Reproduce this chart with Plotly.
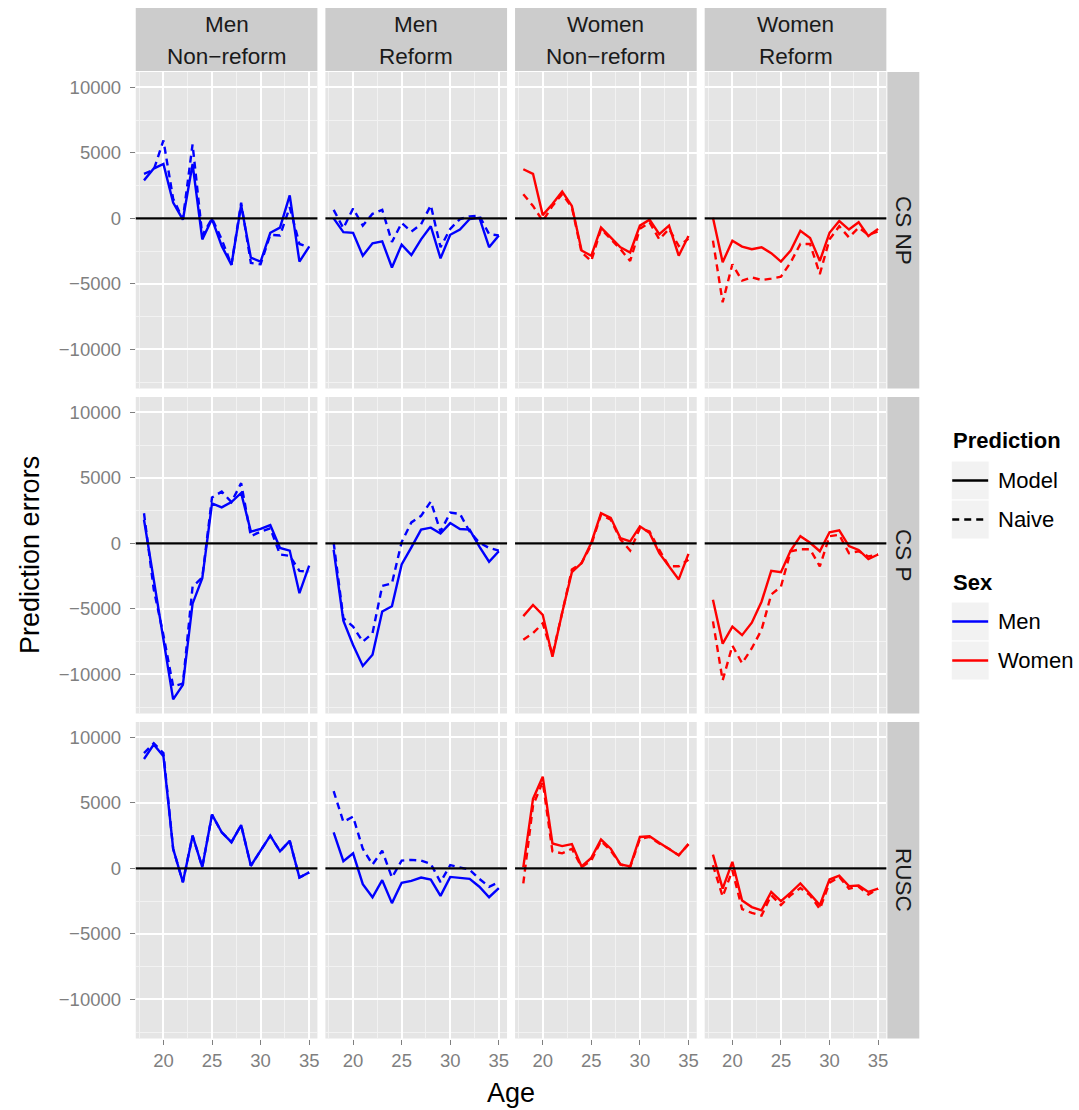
import plotly.graph_objects as go

# Ages on the x axis
ages = list(range(18, 36))

# Column (sex / reform status) and row (measure) facet labels
col_sex = ["Men", "Men", "Women", "Women"]
col_reform = ["Non\u2212reform", "Reform", "Non\u2212reform", "Reform"]
row_labels = ["CS NP", "CS P", "RUSC"]

# y tick positions and labels
y_ticks = [-10000, -5000, 0, 5000, 10000]
y_ticklabels = ["\u221210000", "\u22125000", "0", "5000", "10000"]

# Prediction errors, CS NP
men_nonref_csnp_model = [2900, 3800, 4150, 1200, -100, 4150, -1600, -50, -2100, -3550, 1000, -3000, -3300, -1100, -700, 1750, -3300, -2150]
men_nonref_csnp_naive = [3400, 3700, 5950, 1500, -50, 5650, -1300, 0, -1600, -3550, 1200, -3400, -3500, -1250, -1300, 850, -1950, -2200]
men_ref_csnp_model = [0, -1050, -1100, -2850, -1900, -1750, -3750, -2000, -2800, -1600, -600, -3050, -1250, -850, -50, 50, -2200, -1300]
men_ref_csnp_naive = [650, -750, 750, -550, 350, 650, -1800, -350, -1000, -450, 1000, -2200, -800, -50, 150, 200, -1200, -1300]
women_nonref_csnp_model = [3750, 3400, 250, 1100, 2050, 950, -2450, -2850, -700, -1450, -2200, -2600, -550, -100, -1200, -550, -2850, -1350]
women_nonref_csnp_naive = [1850, 950, -200, 950, 1850, 850, -2600, -3250, -800, -1600, -2350, -3250, -800, -300, -1600, -800, -2100, -1550]
women_ref_csnp_model = [50, -3350, -1700, -2150, -2350, -2200, -2650, -3300, -2450, -950, -1500, -3250, -1100, -200, -850, -300, -1350, -800]
women_ref_csnp_naive = [-1700, -6400, -3500, -4750, -4500, -4700, -4600, -4450, -3350, -1950, -1950, -4250, -1600, -600, -1450, -700, -1250, -1000]

# Prediction errors, CS P
men_nonref_csp_model = [1800, -2700, -7200, -11900, -10800, -4600, -2650, 3050, 2750, 3150, 3850, 900, 1100, 1400, -350, -550, -3800, -1700]
men_nonref_csp_naive = [2300, -3500, -7000, -10900, -10700, -3300, -2600, 3500, 3950, 3150, 4600, 550, 900, 1150, -850, -950, -2100, -2150]
men_ref_csp_model = [-500, -5900, -7750, -9350, -8500, -5200, -4800, -1600, -300, 1050, 1200, 750, 1550, 1100, 1050, -250, -1400, -600]
men_ref_csp_naive = [50, -5700, -6350, -7500, -6850, -3250, -3050, 100, 1600, 2100, 3200, 900, 2350, 2250, 900, 50, -350, -550]
women_nonref_csp_model = [-5550, -4700, -5450, -8650, -5300, -2200, -1500, 50, 2300, 1950, 400, 150, 1300, 800, -750, -1750, -2750, -800]
women_nonref_csp_naive = [-7350, -6850, -6100, -8500, -5300, -2000, -1500, -100, 2200, 1800, 300, -550, 1150, 900, -500, -1750, -1750, -1250]
women_ref_csp_model = [-4300, -7650, -6350, -7000, -6050, -4450, -2100, -2200, -550, 550, 50, -600, 850, 1000, -200, -500, -1200, -850]
women_ref_csp_naive = [-5950, -10450, -7800, -9150, -8000, -6600, -3900, -3300, -600, -450, -450, -1750, 550, 650, -750, -600, -1000, -850]

# Prediction errors, RUSC
men_nonref_rusc_model = [8350, 9450, 8550, 1500, -1050, 2500, 100, 4100, 2750, 2000, 3300, 200, 1350, 2500, 1300, 2100, -700, -300]
men_nonref_rusc_naive = [8800, 9550, 8800, 1500, -1050, 2500, 100, 4100, 2750, 2000, 3300, 200, 1350, 2500, 1300, 2100, -700, -300]
men_ref_rusc_model = [2750, 550, 1150, -1200, -2200, -900, -2650, -1100, -950, -700, -850, -2100, -650, -750, -800, -1400, -2200, -1500]
men_ref_rusc_naive = [5900, 3550, 3950, 1500, 300, 1350, -700, 600, 650, 600, 350, -1050, 250, 100, -100, -800, -1400, -1050]
women_nonref_rusc_model = [100, 5300, 7000, 1900, 1700, 1850, 150, 800, 2200, 1500, 300, 150, 2400, 2450, 1950, 1500, 1000, 1850]
women_nonref_rusc_naive = [-1150, 4800, 6600, 1300, 1150, 1500, 100, 600, 2100, 1350, 300, 100, 2250, 2400, 1900, 1500, 1000, 1850]
women_ref_rusc_model = [1050, -1550, 500, -2450, -2950, -3200, -1800, -2500, -1850, -1150, -1950, -2800, -850, -550, -1350, -1300, -1800, -1550]
women_ref_rusc_naive = [250, -2150, -150, -3100, -3400, -3600, -2050, -2800, -2050, -1500, -2050, -3100, -1100, -650, -1550, -1400, -2000, -1550]

# (model, naive) pairs laid out row by row, column by column
panels = [
    [(men_nonref_csnp_model, men_nonref_csnp_naive), (men_ref_csnp_model, men_ref_csnp_naive),
     (women_nonref_csnp_model, women_nonref_csnp_naive), (women_ref_csnp_model, women_ref_csnp_naive)],
    [(men_nonref_csp_model, men_nonref_csp_naive), (men_ref_csp_model, men_ref_csp_naive),
     (women_nonref_csp_model, women_nonref_csp_naive), (women_ref_csp_model, women_ref_csp_naive)],
    [(men_nonref_rusc_model, men_nonref_rusc_naive), (men_ref_rusc_model, men_ref_rusc_naive),
     (women_nonref_rusc_model, women_nonref_rusc_naive), (women_ref_rusc_model, women_ref_rusc_naive)],
]
sex_colors = {"Men": "#0000FF", "Women": "#FF0000"}

W, H = 1079, 1110
FONT = "Liberation Sans"
GREY_TEXT = "#7F7F7F"
DASH = "7px,5px"
LINE_W = 2.4


def px(x):
    return x / W


def py(y):
    return 1 - y / H


col_px = [(136, 318), (326, 508), (516, 698), (706, 888)]
row_px = [(72, 388.5), (397, 713.5), (722, 1038.5)]
strip_right = (889, 921)
strip_top = (8, 71)

fig = go.Figure()
layout = {}
shapes = []
annotations = []

for r in range(3):
    for c in range(4):
        k = r * 4 + c + 1
        sfx = "" if k == 1 else str(k)
        model, naive = panels[r][c]
        color = sex_colors[col_sex[c]]
        fig.add_trace(go.Scatter(x=ages, y=naive, mode="lines", xaxis="x" + sfx, yaxis="y" + sfx,
                                 line=dict(color=color, width=LINE_W, dash=DASH), showlegend=False,
                                 hoverinfo="skip"))
        fig.add_trace(go.Scatter(x=ages, y=model, mode="lines", xaxis="x" + sfx, yaxis="y" + sfx,
                                 line=dict(color=color, width=LINE_W), showlegend=False,
                                 hoverinfo="skip"))
        x0, x1 = col_px[c]
        y0, y1 = row_px[r]
        show_x = r == 2
        show_y = c == 0
        layout["xaxis" + sfx] = dict(
            domain=[px(x0), px(x1)], anchor="y" + sfx, range=[17.15, 35.85],
            tick0=20, dtick=5, showgrid=True, gridcolor="white", gridwidth=2,
            minor=dict(tick0=17.5, dtick=5, showgrid=True, gridcolor="#F2F2F2", gridwidth=1),
            zeroline=False, showline=False, showticklabels=show_x,
            ticks="outside" if show_x else "", ticklen=5, tickwidth=1, tickcolor=GREY_TEXT,
            tickfont=dict(family=FONT, size=18.5, color=GREY_TEXT),
        )
        layout["yaxis" + sfx] = dict(
            domain=[py(y1), py(y0)], anchor="x" + sfx, range=[-12980, 11170],
            tickvals=y_ticks, ticktext=y_ticklabels,
            showgrid=True, gridcolor="white", gridwidth=2,
            minor=dict(tick0=2500, dtick=5000, showgrid=True, gridcolor="#F2F2F2", gridwidth=1),
            zeroline=False, showline=False, showticklabels=show_y,
            ticks="outside" if show_y else "", ticklen=5, tickwidth=1, tickcolor=GREY_TEXT,
            ticklabelstandoff=5,
            tickfont=dict(family=FONT, size=18.5, color=GREY_TEXT),
        )
        # reference line at zero error
        shapes.append(dict(type="line", xref="x" + sfx + " domain", yref="y" + sfx,
                           x0=0, x1=1, y0=0, y1=0, line=dict(color="black", width=2.2), layer="above"))

# column strips
for c in range(4):
    x0, x1 = col_px[c]
    shapes.append(dict(type="rect", xref="paper", yref="paper", x0=px(x0), x1=px(x1),
                       y0=py(strip_top[1]), y1=py(strip_top[0]), fillcolor="#CCCCCC",
                       line=dict(width=0), layer="below"))
    cx = px((x0 + x1) / 2)
    annotations.append(dict(text=col_sex[c], x=cx, y=py(24), xref="paper", yref="paper",
                            showarrow=False, xanchor="center", yanchor="middle",
                            font=dict(family=FONT, size=22.5, color="#1A1A1A")))
    annotations.append(dict(text=col_reform[c], x=cx, y=py(56), xref="paper", yref="paper",
                            showarrow=False, xanchor="center", yanchor="middle",
                            font=dict(family=FONT, size=22.5, color="#1A1A1A")))

# row strips
for r in range(3):
    y0, y1 = row_px[r]
    shapes.append(dict(type="rect", xref="paper", yref="paper", x0=px(strip_right[0]),
                       x1=px(strip_right[1]), y0=py(y1), y1=py(y0), fillcolor="#CCCCCC",
                       line=dict(width=0), layer="below"))
    annotations.append(dict(text=row_labels[r], x=px(sum(strip_right) / 2), y=py((y0 + y1) / 2),
                            xref="paper", yref="paper", showarrow=False, textangle=90,
                            xanchor="center", yanchor="middle",
                            font=dict(family=FONT, size=22.5, color="#1A1A1A")))

# axis titles
annotations.append(dict(text="Age", x=px(512), y=py(1093), xref="paper", yref="paper",
                        showarrow=False, xanchor="center", yanchor="middle",
                        font=dict(family=FONT, size=27, color="black")))
annotations.append(dict(text="Prediction errors", x=px(30), y=py(555), xref="paper", yref="paper",
                        showarrow=False, textangle=-90, xanchor="center", yanchor="middle",
                        font=dict(family=FONT, size=27, color="black")))

# legends: line type and colour
legend_x0, legend_x1, label_x = 953, 991, 998
legend_blocks = [
    ("Prediction", 441, [("Model", "black", "solid"), ("Naive", "black", "dash")]),
    ("Sex", 582, [("Men", sex_colors["Men"], "solid"), ("Women", sex_colors["Women"], "solid")]),
]
key_h = 39
for title, ty, items in legend_blocks:
    annotations.append(dict(text="<b>" + title + "</b>", x=px(953), y=py(ty), xref="paper",
                            yref="paper", showarrow=False, xanchor="left", yanchor="middle",
                            font=dict(family=FONT, size=22, color="black")))
    top = ty + 20
    for i, (lab, colr, dash) in enumerate(items):
        k0 = top + i * key_h
        k1 = k0 + key_h
        kc = (k0 + k1) / 2
        shapes.append(dict(type="rect", xref="paper", yref="paper", x0=px(legend_x0), x1=px(legend_x1),
                           y0=py(k1), y1=py(k0), fillcolor="#F2F2F2", line=dict(color="white", width=1)))
        shapes.append(dict(type="line", xref="paper", yref="paper", x0=px(legend_x0 + 1),
                           x1=px(legend_x1 - 1), y0=py(kc), y1=py(kc),
                           line=dict(color=colr, width=LINE_W, dash=DASH if dash == "dash" else "solid")))
        annotations.append(dict(text=lab, x=px(label_x), y=py(kc), xref="paper", yref="paper",
                                showarrow=False, xanchor="left", yanchor="middle",
                                font=dict(family=FONT, size=22, color="black")))

fig.update_layout(
    width=W, height=H, autosize=False,
    margin=dict(l=0, r=0, t=0, b=0),
    paper_bgcolor="white", plot_bgcolor="#E5E5E5",
    showlegend=False, shapes=shapes, annotations=annotations,
    **layout,
)

fig.write_html("out.html")
